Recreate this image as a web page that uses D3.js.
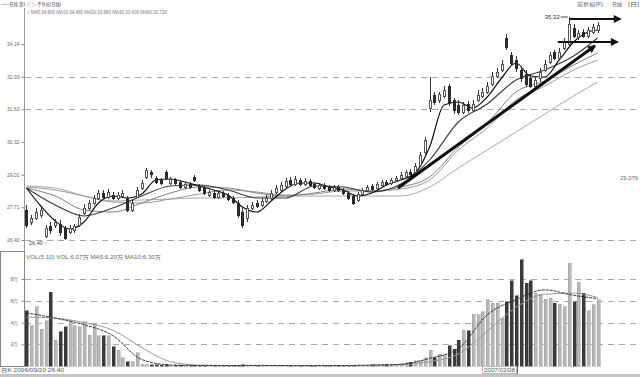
<!DOCTYPE html>
<html>
<head>
<meta charset="utf-8">
<script src="https://cdn.jsdelivr.net/npm/d3@7"></script>
<style>
body { margin: 0; background: #fff; }
svg { display: block; font-family: "Liberation Sans", "Noto Sans CJK SC", sans-serif; }
</style>
</head>
<body>
<svg id="chart" width="640" height="377"></svg>
<script>
// daily candles, prices
const open = [27.60, 27.12, 27.28, 27.40, 26.56, 26.96, 27.00, 27.04, 26.88, 26.72,
    26.80, 27.00, 27.48, 27.68, 27.88, 28.08, 28.28, 28.12, 28.20, 28.08,
    28.16, 28.08, 27.60, 28.12, 28.48, 28.92, 29.12, 28.88, 28.80, 29.12,
    28.68, 28.80, 28.72, 28.52, 28.64, 28.92, 28.56, 28.48, 28.20, 28.28,
    28.12, 28.28, 28.20, 28.08, 27.88, 27.52, 27.28, 27.68, 27.88, 27.80,
    27.96, 28.08, 28.32, 28.40, 28.56, 28.80, 28.64, 28.80, 28.64, 28.76,
    28.64, 28.48, 28.60, 28.52, 28.40, 28.52, 28.40, 28.28, 28.16, 28.00,
    28.24, 28.40, 28.56, 28.48, 28.60, 28.72, 28.68, 28.80, 28.88, 28.96,
    29.12, 29.12, 29.40, 29.92, 31.68, 32.20, 32.00, 32.16, 32.56, 32.00,
    31.80, 31.52, 31.84, 31.60, 32.00, 32.16, 32.32, 32.64, 32.96, 33.20,
    34.48, 33.80, 33.60, 33.20, 33.04, 32.88, 32.56, 32.88, 33.20, 33.52,
    33.92, 33.68, 34.08, 34.24, 34.88, 34.52, 34.72, 34.56, 34.72, 34.80];
const high = [27.80, 27.40, 27.68, 27.76, 27.00, 27.12, 27.24, 27.20, 26.96, 27.00,
    27.04, 27.44, 27.84, 28.00, 28.20, 28.40, 28.40, 28.44, 28.32, 28.32,
    28.40, 28.16, 28.00, 28.52, 28.80, 29.28, 29.20, 28.96, 28.88, 29.20,
    28.92, 28.88, 28.80, 28.72, 28.72, 29.00, 28.64, 28.56, 28.40, 28.40,
    28.36, 28.36, 28.28, 28.16, 28.00, 27.68, 27.80, 27.92, 28.00, 28.08,
    28.20, 28.40, 28.60, 28.72, 28.88, 28.92, 28.96, 28.88, 28.88, 28.84,
    28.72, 28.68, 28.68, 28.60, 28.60, 28.60, 28.48, 28.36, 28.24, 28.32,
    28.48, 28.60, 28.64, 28.72, 28.80, 28.80, 28.88, 28.96, 29.12, 29.20,
    29.24, 29.48, 29.92, 30.52, 32.92, 32.32, 32.32, 32.56, 32.64, 32.08,
    32.00, 31.92, 31.96, 32.00, 32.40, 32.48, 32.72, 33.12, 33.28, 33.60,
    34.64, 33.92, 33.76, 33.36, 33.20, 33.04, 32.96, 33.28, 33.60, 33.92,
    34.00, 34.08, 34.48, 35.32, 35.04, 34.80, 34.84, 34.92, 35.04, 35.12];
const low = [26.88, 27.00, 27.20, 27.28, 26.48, 26.64, 26.88, 26.56, 26.40, 26.64,
    26.68, 26.92, 27.40, 27.60, 27.80, 28.00, 28.04, 28.04, 28.00, 28.00,
    28.08, 27.52, 27.52, 28.08, 28.40, 28.84, 28.88, 28.64, 28.60, 28.80,
    28.60, 28.60, 28.44, 28.44, 28.44, 28.72, 28.32, 28.20, 28.12, 28.04,
    28.04, 28.08, 27.96, 27.84, 27.28, 26.88, 27.12, 27.60, 27.68, 27.72,
    27.88, 28.00, 28.24, 28.32, 28.48, 28.56, 28.56, 28.56, 28.56, 28.52,
    28.44, 28.40, 28.40, 28.32, 28.32, 28.32, 28.20, 28.00, 27.80, 27.92,
    28.16, 28.32, 28.36, 28.40, 28.52, 28.56, 28.60, 28.72, 28.80, 28.88,
    28.96, 29.04, 29.32, 29.84, 31.52, 31.80, 31.88, 32.08, 31.76, 31.44,
    31.40, 31.44, 31.48, 31.52, 31.92, 32.08, 32.24, 32.56, 32.88, 33.12,
    34.00, 33.36, 33.12, 32.72, 32.52, 32.48, 32.44, 32.72, 33.12, 33.44,
    33.60, 33.60, 34.00, 34.16, 34.48, 34.40, 34.48, 34.48, 34.64, 34.68];
const close = [27.00, 27.28, 27.52, 27.60, 26.88, 26.80, 27.12, 26.72, 26.48, 26.88,
    26.96, 27.32, 27.68, 27.88, 28.08, 28.28, 28.12, 28.32, 28.08, 28.20,
    28.28, 27.60, 27.88, 28.40, 28.68, 29.20, 29.04, 28.72, 28.68, 28.88,
    28.84, 28.68, 28.52, 28.64, 28.52, 28.80, 28.40, 28.28, 28.32, 28.12,
    28.28, 28.16, 28.04, 27.92, 27.40, 27.00, 27.68, 27.80, 27.76, 27.96,
    28.08, 28.28, 28.48, 28.60, 28.76, 28.64, 28.84, 28.64, 28.76, 28.60,
    28.52, 28.60, 28.48, 28.40, 28.52, 28.40, 28.28, 28.08, 27.88, 28.24,
    28.40, 28.52, 28.44, 28.64, 28.72, 28.64, 28.80, 28.88, 29.00, 29.12,
    29.04, 29.36, 29.80, 30.40, 32.00, 31.92, 32.24, 32.40, 31.88, 31.60,
    31.52, 31.80, 31.60, 31.84, 32.20, 32.32, 32.56, 32.96, 33.12, 33.44,
    34.12, 33.48, 33.28, 32.88, 32.64, 32.56, 32.80, 33.12, 33.44, 33.80,
    33.68, 33.92, 34.32, 35.04, 34.56, 34.68, 34.56, 34.80, 34.92, 35.00];
// volume in 万手
const volume = [5.06, 3.68, 5.43, 3.40, 4.14, 6.80, 2.39, 3.13, 3.59, 4.14,
    3.68, 3.59, 4.05, 2.85, 3.95, 2.76, 2.76, 2.76, 1.75, 1.47,
    0.74, 0.37, 0.37, 1.20, 0.15, 0.10, 0.12, 0.10, 0.08, 0.10,
    0.06, 0.05, 0.06, 0.05, 0.04, 0.05, 0.04, 0.05, 0.04, 0.03,
    0.04, 0.03, 0.04, 0.05, 0.08, 0.10, 0.06, 0.05, 0.04, 0.04,
    0.03, 0.04, 0.05, 0.04, 0.05, 0.04, 0.03, 0.04, 0.03, 0.04,
    0.03, 0.04, 0.03, 0.04, 0.05, 0.04, 0.05, 0.06, 0.08, 0.06,
    0.07, 0.08, 0.10, 0.12, 0.15, 0.14, 0.18, 0.16, 0.20, 0.28,
    0.35, 0.46, 0.46, 0.74, 1.47, 0.74, 1.10, 1.00, 1.84, 1.56,
    2.39, 3.31, 3.22, 4.78, 4.69, 4.97, 6.07, 5.79, 5.79, 4.41,
    5.89, 7.82, 6.44, 9.75, 7.63, 7.82, 6.71, 6.62, 6.16, 6.25,
    5.79, 5.70, 5.43, 9.47, 5.89, 7.72, 6.71, 5.06, 5.61, 6.07];

// moving averages, read at these candle positions
const ma5Index = [0, 3, 6, 9, 12, 15, 18, 21, 24, 27, 30, 33, 36, 39, 42, 45, 48, 51, 54, 57,
    60, 63, 66, 69, 72, 75, 78, 81, 84, 87, 90, 93, 96, 99, 102, 105, 108, 111, 114, 117, 119];
const ma5 = [28.48, 27.76, 27.16, 26.84, 27.12, 27.88, 28.16, 28.08, 28.24, 28.80,
    28.84, 28.72, 28.56, 28.40, 28.20, 27.72, 27.52, 27.96, 28.44, 28.68,
    28.68, 28.52, 28.40, 28.16, 28.28, 28.60, 28.80, 29.08, 30.12, 31.80,
    31.92, 31.68, 32.12, 32.88, 33.48, 32.96, 32.92, 33.60, 34.32, 34.72, 34.80];
const maIndex = [0, 6, 12, 18, 24, 30, 36, 42, 48, 54, 60, 66, 72, 78, 84, 90, 96, 102, 108, 114, 119];
const ma10 = [28.48, 27.80, 27.36, 27.68, 28.16, 28.56, 28.60, 28.40, 28.08, 28.08,
    28.56, 28.52, 28.32, 28.64, 29.60, 31.12, 31.84, 32.80, 33.20, 33.76, 34.48];
const ma20 = [28.48, 28.16, 27.60, 27.52, 27.88, 28.28, 28.52, 28.48, 28.28, 28.16,
    28.28, 28.44, 28.36, 28.52, 28.92, 30.12, 31.08, 32.32, 32.76, 33.40, 33.88];
const ma30 = [28.52, 28.40, 28.16, 27.92, 27.88, 28.04, 28.24, 28.40, 28.32, 28.20,
    28.24, 28.36, 28.36, 28.44, 28.80, 30.00, 30.88, 32.00, 32.56, 33.20, 33.60];
const ma60 = [28.56, 28.48, 28.16, 27.96, 28.00, 28.04, 28.08, 28.08, 28.12, 28.16,
    28.16, 28.16, 28.16, 28.16, 28.52, 29.28, 30.00, 30.72, 31.44, 32.16, 32.72];
const volMa5 = [4.9, 4.4, 3.8, 2.8, 0.6, 0.1, 0.05, 0.04, 0.06, 0.04,
    0.04, 0.05, 0.08, 0.15, 0.7, 1.6, 4.7, 6.1, 7.0, 6.5, 6.2];
const volMa10 = [4.5, 4.4, 4.0, 3.3, 1.7, 0.4, 0.08, 0.05, 0.05, 0.05,
    0.04, 0.04, 0.06, 0.12, 0.4, 1.1, 3.2, 5.4, 6.6, 6.7, 6.3];

const priceTicks = [34.24, 32.93, 31.63, 30.32, 29.01, 27.71, 26.40];
const priceGrid = [32.93, 31.63, 26.40];
const volTicks = [2, 4, 6, 8];
const volTickLabels = ["2万", "4万", "6万", "8万"];

// hand drawn arrows: [index, price] pairs
const arrows = [
    { from: [113.2, 35.24], to: [123.7, 35.24], w: 2 },
    { from: [110.7, 34.32], to: [123.1, 34.32], w: 2 },
    { from: [77.4, 28.48], to: [118.4, 34.16], w: 3 }
];

const svg = d3.select("#chart");
const n = open.length;

let x = d3.scaleLinear().domain([-0.5, n - 0.5]).range([24, 600]);
let y = d3.scaleLinear().domain([26.40, 34.24]).range([240, 44]);
let yv = d3.scaleLinear().domain([0, 8]).range([366, 279]);
const bodyW = 3;

// frame
svg.append("line").attr("x1", 24.5).attr("x2", 24.5).attr("y1", 8).attr("y2", 367)
    .attr("stroke", "#999");
svg.append("rect").attr("x", 0.5).attr("y", 251.5).attr("width", 24).attr("height", 115)
    .attr("fill", "none").attr("stroke", "#888");
svg.append("rect").attr("x", 0).attr("y", 374).attr("width", 640).attr("height", 3)
    .attr("fill", "#c4c4c4");

// grid
svg.append("g").selectAll("line").data(priceGrid).join("line")
    .attr("x1", 25).attr("x2", 640)
    .attr("y1", d => Math.round(y(d)) + 0.5).attr("y2", d => Math.round(y(d)) + 0.5)
    .attr("stroke", "#aaa").attr("stroke-dasharray", "6,5");
svg.append("g").selectAll("line").data(volTicks).join("line")
    .attr("x1", 25).attr("x2", 640)
    .attr("y1", d => Math.round(yv(d)) + 0.5).attr("y2", d => Math.round(yv(d)) + 0.5)
    .attr("stroke", "#aaa").attr("stroke-dasharray", "6,5");

// axes
let priceAxis = svg.append("g")
    .attr("transform", "translate(24.5,0)")
    .call(d3.axisLeft(y).tickValues(priceTicks).tickSize(3).tickPadding(2).tickFormat(d3.format(".2f")));
let volAxis = svg.append("g")
    .attr("transform", "translate(24.5,0)")
    .call(d3.axisLeft(yv).tickValues(volTicks).tickSize(3).tickPadding(3)
        .tickFormat((d, k) => volTickLabels[k]));
[priceAxis, volAxis].forEach(a => {
    a.select(".domain").remove();
    a.selectAll("line").attr("stroke", "#888");
    a.selectAll("text").attr("fill", "#666").style("font-size", "5px");
});

// moving average lines
let maLine = d3.line().x((d, k) => x(maIndex[k])).y(d => y(d)).curve(d3.curveMonotoneX);
let ma5Line = d3.line().x((d, k) => x(ma5Index[k])).y(d => y(d)).curve(d3.curveMonotoneX);
let volLine = d3.line().x((d, k) => x(maIndex[k])).y(d => yv(d)).curve(d3.curveMonotoneX);

[[ma60, "#a8a8a8", 1], [ma30, "#9a9a9a", 1], [ma20, "#808080", 1], [ma10, "#3a3a3a", 1.1]]
    .forEach(([vals, color, w]) => {
        svg.append("path").attr("d", maLine(vals)).attr("fill", "none")
            .attr("stroke", color).attr("stroke-width", w);
    });
svg.append("path").attr("d", ma5Line(ma5)).attr("fill", "none")
    .attr("stroke", "#111").attr("stroke-width", 1.2);

// candles
let idx = d3.range(n);
let candles = svg.append("g").attr("shape-rendering", "crispEdges")
    .selectAll("g").data(idx).join("g");
candles.append("line")
    .attr("x1", i => Math.round(x(i)) + 0.5).attr("x2", i => Math.round(x(i)) + 0.5)
    .attr("y1", i => y(high[i])).attr("y2", i => y(low[i]))
    .attr("stroke", "#333");
candles.append("rect")
    .attr("x", i => Math.round(x(i)) - 1)
    .attr("y", i => y(Math.max(open[i], close[i])))
    .attr("width", bodyW - 1)
    .attr("height", i => Math.max(1, Math.abs(y(open[i]) - y(close[i]))))
    .attr("fill", i => close[i] >= open[i] ? "#fff" : "#2a2a2a")
    .attr("stroke", i => close[i] >= open[i] ? "#555" : "#2a2a2a");

// volume bars
svg.append("g").attr("shape-rendering", "crispEdges")
    .selectAll("rect").data(idx).join("rect")
    .attr("x", i => Math.round(x(i)) - 1)
    .attr("y", i => yv(volume[i]))
    .attr("width", 3)
    .attr("height", i => Math.max(0.5, yv(0) - yv(volume[i])))
    .attr("fill", i => close[i] >= open[i] ? "#b8b8b8" : "#3a3a3a")
    .attr("stroke", i => close[i] >= open[i] ? "#999" : "#3a3a3a")
    .attr("stroke-width", 0.5);

svg.append("path").attr("d", volLine(volMa10)).attr("fill", "none")
    .attr("stroke", "#999").attr("stroke-width", 1);
svg.append("path").attr("d", volLine(volMa5)).attr("fill", "none")
    .attr("stroke", "#333").attr("stroke-width", 1).attr("stroke-dasharray", "3,1");

// arrows
svg.append("defs").append("marker")
    .attr("id", "head").attr("markerUnits", "userSpaceOnUse")
    .attr("viewBox", "0 0 10 10").attr("refX", 8).attr("refY", 5)
    .attr("markerWidth", 10).attr("markerHeight", 8).attr("orient", "auto")
    .append("path").attr("d", "M0,0L10,5L0,10Z").attr("fill", "#111");
svg.append("g").selectAll("line").data(arrows).join("line")
    .attr("x1", d => x(d.from[0])).attr("y1", d => y(d.from[1]))
    .attr("x2", d => x(d.to[0])).attr("y2", d => y(d.to[1]))
    .attr("stroke", "#111").attr("stroke-width", d => d.w)
    .attr("marker-end", "url(#head)");

// max / min markers
let iMax = d3.maxIndex(high);
let iMin = d3.minIndex(low);
svg.append("line").attr("x1", x(iMax) - 8).attr("x2", x(iMax) - 1)
    .attr("y1", y(high[iMax])).attr("y2", y(high[iMax])).attr("stroke", "#444");
svg.append("text").attr("x", x(iMax) - 9).attr("y", y(high[iMax]) + 2)
    .attr("text-anchor", "end").attr("fill", "#333").style("font-size", "6px")
    .text(high[iMax].toFixed(2));
svg.append("text").attr("x", 29).attr("y", y(low[iMin]) + 5)
    .attr("fill", "#444").style("font-size", "5.5px")
    .text(low[iMin].toFixed(2) + " ↑");

// texts
let small = (tx, ty, str, len, size, color) => {
    let t = svg.append("text").attr("x", tx).attr("y", ty)
        .attr("fill", color || "#666").style("font-size", `${size || 5}px`).text(str);
    if (len) t.attr("textLength", len).attr("lengthAdjust", "spacingAndGlyphs");
    return t;
};
small(1, 6, "——日线 第1 ◁ ▷ 不复权(日线)", 60, 5, "#555");
small(27, 14, `√ MA5:${ma5[ma5.length - 1].toFixed(3)} MA10:${ma10[20].toFixed(3)} MA20:${ma20[20].toFixed(3)} MA30:${ma30[20].toFixed(3)} MA60:${ma60[20].toFixed(3)}`, 140, 5, "#777");
small(577, 6, "前复权(F)", 26, 5, "#555");
small(612, 6, "日线", 10, 5, "#555");
small(628, 6, "[日]", 11, 5, "#555");
small(620, 180, "29.076", 18, 5, "#666");
small(26, 259, `VOL(5,10) VOL:${volume[n - 1].toFixed(2)}万 MA5:${volMa5[20].toFixed(2)}万 MA10:${volMa10[20].toFixed(2)}万`, 135, 5, "#666");
small(1, 372, "日K 2006/09/20 26.40", 63, 5, "#555");
svg.append("rect").attr("x", 482.5).attr("y", 366.5).attr("width", 34).attr("height", 7)
    .attr("fill", "#fff").attr("stroke", "#bbb");
small(484, 372, "2007/02/08", 31, 5, "#555");
svg.append("line").attr("x1", 517.5).attr("x2", 517.5).attr("y1", 366).attr("y2", 374).attr("stroke", "#666");
</script>
</body>
</html>
